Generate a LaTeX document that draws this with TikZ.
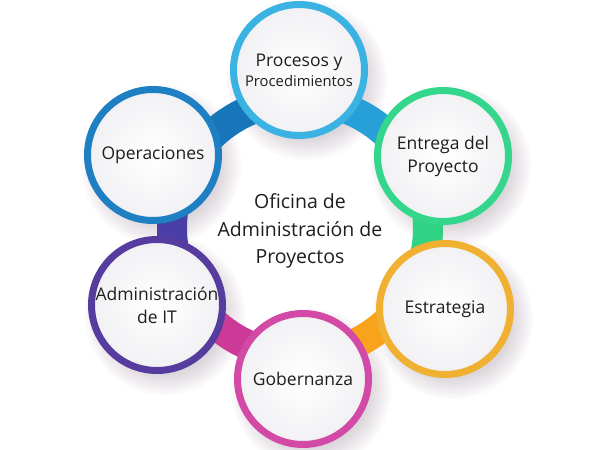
\documentclass[tikz,border=0pt]{standalone}
\usepackage{fontspec}
\setmainfont{Open Sans}
\usetikzlibrary{calc}
\definecolor{cProc}{HTML}{3AB3E3}
\definecolor{cOper}{HTML}{1E7FC2}
\definecolor{cEntr}{HTML}{33D68A}
\definecolor{cEstr}{HTML}{F0B032}
\definecolor{cGob}{HTML}{D24AA6}
\definecolor{cAdm}{HTML}{553C9E}
\definecolor{bProc}{HTML}{27A0D8}
\definecolor{bOper}{HTML}{1775B9}
\definecolor{bEntr}{HTML}{2FD383}
\definecolor{bEstr}{HTML}{F9A21C}
\definecolor{bGob}{HTML}{CC3A98}
\definecolor{bAdm}{HTML}{4B3EA6}
\definecolor{cFill}{HTML}{F1F1F4}
\definecolor{cText}{HTML}{1E1E1E}
\definecolor{cShadow}{HTML}{6E5A6E}
\tikzset{
  bubble/.style={circle, minimum size=131pt, inner sep=0pt, line width=7pt,
    inner color=white, outer color=cFill, align=center,
    font=\fontsize{17.5}{23}\selectfont, text=cText},
  bar/.style={line width=30pt, line cap=butt},
}
\begin{document}
\begin{tikzpicture}[x=1pt,y=-1pt]
\useasboundingbox (0,0) rectangle (600,450);
\fill[white] (0,0) rectangle (600,450);
\coordinate (hub) at (300,228);
% soft shadows
\foreach \cx/\cy in {299/70,443/156,445/309,303/379,157/305,153/155}{
  \foreach \k in {0,...,8}{
    \fill[cShadow, opacity=0.028] (\cx+8,\cy+10) circle[radius=60+\k*2.5];
  }
}
% ring segments
\draw[bar, bProc] ($(hub)+(-92:128)$) arc[start angle=-92, end angle=-25, radius=128];
\draw[bar, bEntr] ($(hub)+(-28:128)$) arc[start angle=-28, end angle=31, radius=128];
\draw[bar, bEstr] ($(hub)+(28:128)$) arc[start angle=28, end angle=90, radius=128];
\draw[bar, bGob] ($(hub)+(88:128)$) arc[start angle=88, end angle=153, radius=128];
\draw[bar, bAdm] ($(hub)+(150:128)$) arc[start angle=150, end angle=208, radius=128];
\draw[bar, bOper] ($(hub)+(205:128)$) arc[start angle=205, end angle=270, radius=128];
% circles
\node[bubble, draw=cProc] (proc) at (299,70) {Procesos y\\[-3pt]{\fontsize{14.8}{18}\selectfont Procedimientos}};
\node[bubble, draw=cEntr] (entr) at (443,156) {Entrega del\\Proyecto};
\node[bubble, draw=cEstr] (estr) at (445,309) {Estrategia};
\node[bubble, draw=cGob] (gob) at (303,379) {Gobernanza};
\node[bubble, draw=cAdm] (adm) at (157,305) {Administración\\de IT};
\node[bubble, draw=cOper] (oper) at (153,155) {Operaciones};
% centre title
\node[font=\fontsize{19.5}{27.5}\selectfont, align=center, text=cText] (title) at (300,231) {Oficina de\\Administración de\\Proyectos};
\end{tikzpicture}
\end{document}
